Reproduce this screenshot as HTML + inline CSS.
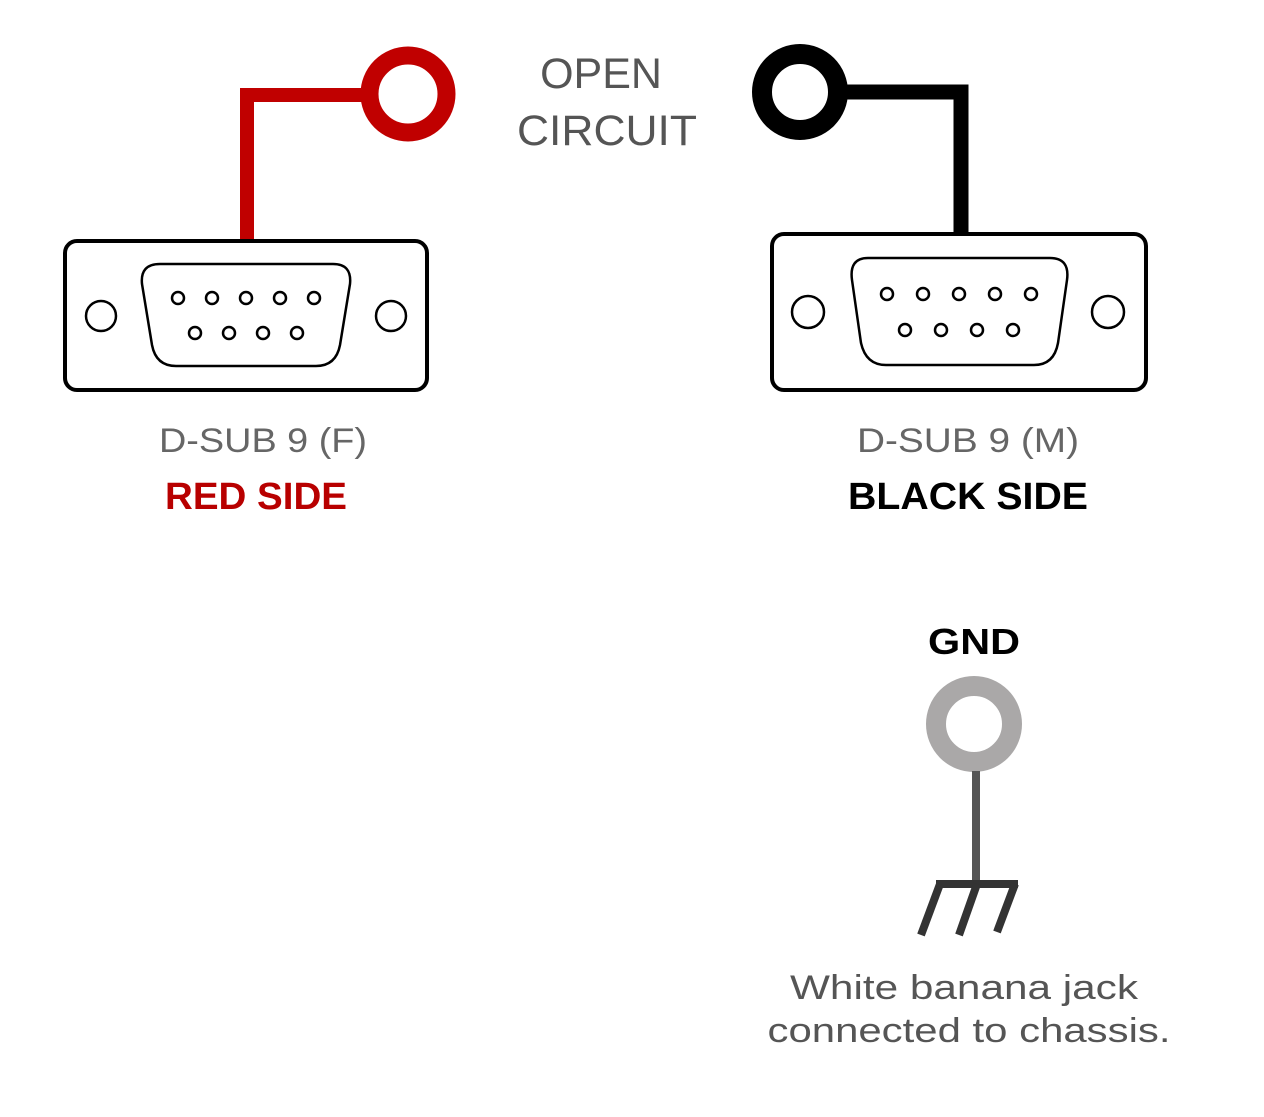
<!DOCTYPE html>
<html><head><meta charset="utf-8"><style>
html,body{margin:0;padding:0;background:#fff;}
svg{display:block;}
</style></head><body>
<svg width="1264" height="1117" viewBox="0 0 1264 1117" xmlns="http://www.w3.org/2000/svg" font-family="Liberation Sans, sans-serif">
<!-- red wire -->
<path d="M247 240 V95 H370" fill="none" stroke="#c00000" stroke-width="14"/>
<circle cx="408" cy="94" r="38.5" fill="none" stroke="#c00000" stroke-width="18"/>
<!-- black wire -->
<path d="M961 232 V92 H840" fill="none" stroke="#000" stroke-width="15"/>
<circle cx="800" cy="92" r="38" fill="none" stroke="#000" stroke-width="20"/>
<!-- red connector -->
<rect x="65" y="241" width="362" height="149" rx="12" fill="#fff" stroke="#000" stroke-width="4"/>
<path d="M160 264 H333 Q352 264 350 284 L340 345 Q336 366 316 366 H176 Q156 366 152 345 L142 284 Q140 264 160 264 Z" fill="none" stroke="#000" stroke-width="2.5"/>
<g fill="none" stroke="#000" stroke-width="2.5">
<circle cx="178" cy="298" r="6"/><circle cx="212" cy="298" r="6"/><circle cx="246" cy="298" r="6"/><circle cx="280" cy="298" r="6"/><circle cx="314" cy="298" r="6"/>
<circle cx="195" cy="333" r="6"/><circle cx="229" cy="333" r="6"/><circle cx="263" cy="333" r="6"/><circle cx="297" cy="333" r="6"/>
<circle cx="101" cy="316" r="15"/><circle cx="391" cy="316" r="15"/>
</g>
<!-- black connector -->
<rect x="772" y="234" width="374" height="156" rx="12" fill="#fff" stroke="#000" stroke-width="4"/>
<path d="M868 258 H1050 Q1070 258 1067 280 L1058 343 Q1054 365 1034 365 H886 Q866 365 861 343 L852 280 Q849 258 868 258 Z" fill="none" stroke="#000" stroke-width="2.5"/>
<g fill="none" stroke="#000" stroke-width="2.5">
<circle cx="887" cy="294" r="6"/><circle cx="923" cy="294" r="6"/><circle cx="959" cy="294" r="6"/><circle cx="995" cy="294" r="6"/><circle cx="1031" cy="294" r="6"/>
<circle cx="905" cy="330" r="6"/><circle cx="941" cy="330" r="6"/><circle cx="977" cy="330" r="6"/><circle cx="1013" cy="330" r="6"/>
<circle cx="808" cy="312" r="16"/><circle cx="1108" cy="312" r="16"/>
</g>
<!-- GND -->
<circle cx="974" cy="724" r="38" fill="none" stroke="#aaa8a8" stroke-width="20"/>
<line x1="976" y1="771" x2="976" y2="884" stroke="#555" stroke-width="8"/>
<line x1="936" y1="884" x2="1018" y2="884" stroke="#333" stroke-width="8"/>
<g stroke="#333" stroke-width="8">
<line x1="940" y1="884" x2="921" y2="935"/>
<line x1="977" y1="884" x2="959" y2="935"/>
<line x1="1015" y1="884" x2="997" y2="932"/>
</g>
<!-- text -->
<g fill="#555" font-size="43" text-anchor="middle">
<text x="601" y="88">OPEN</text>
<text x="607" y="145" textLength="180" lengthAdjust="spacingAndGlyphs">CIRCUIT</text>
</g>
<g fill="#666" font-size="34" text-anchor="middle">
<text x="263" y="452" textLength="208" lengthAdjust="spacingAndGlyphs">D-SUB 9 (F)</text>
<text x="968" y="452" textLength="222" lengthAdjust="spacingAndGlyphs">D-SUB 9 (M)</text>
</g>
<text x="256" y="509" font-size="38" font-weight="bold" fill="#b80000" text-anchor="middle" textLength="182" lengthAdjust="spacingAndGlyphs">RED SIDE</text>
<text x="968" y="509" font-size="38" font-weight="bold" fill="#000" text-anchor="middle" textLength="240" lengthAdjust="spacingAndGlyphs">BLACK SIDE</text>
<text x="974" y="654" font-size="36" font-weight="bold" fill="#000" text-anchor="middle" textLength="92" lengthAdjust="spacingAndGlyphs">GND</text>
<g fill="#555" font-size="34" text-anchor="middle">
<text x="964" y="999" textLength="348" lengthAdjust="spacingAndGlyphs">White banana jack</text>
<text x="969" y="1042" textLength="403" lengthAdjust="spacingAndGlyphs">connected to chassis.</text>
</g>
</svg>
</body></html>
